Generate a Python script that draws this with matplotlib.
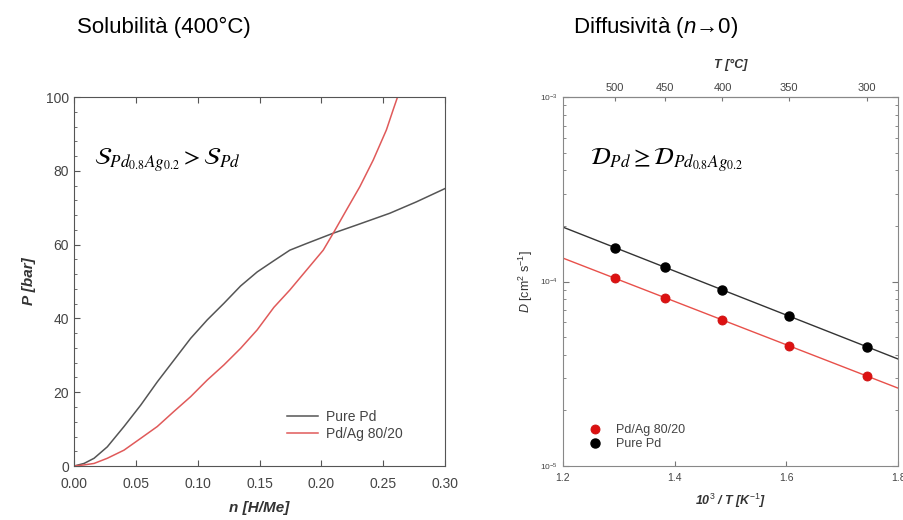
import numpy as np
import matplotlib
matplotlib.use("Agg")
import matplotlib.pyplot as plt
from matplotlib.ticker import MultipleLocator, LogLocator, NullFormatter

plt.rcParams['font.family'] = ['Liberation Sans', 'DejaVu Sans']
plt.rcParams['mathtext.fontset'] = 'custom'
plt.rcParams['mathtext.rm'] = 'Liberation Sans'
plt.rcParams['mathtext.it'] = 'Liberation Sans:italic'
plt.rcParams['mathtext.bf'] = 'Liberation Sans:bold'

# ---- solubility isotherms at 400 C ----
n_pd = [0, 0.0081, 0.0162, 0.0269, 0.0404, 0.0539, 0.0673, 0.0808, 0.0943,
        0.1077, 0.1212, 0.1347, 0.1481, 0.1614, 0.1745, 0.1880, 0.2096,
        0.2284, 0.2553, 0.2769, 0.30]
p_pd = [0, 0.7, 2.1, 5.2, 10.7, 16.5, 22.8, 28.7, 34.6,
        39.6, 44.1, 48.8, 52.6, 55.6, 58.5, 60.3, 63.1,
        65.3, 68.5, 71.6, 75.2]

n_pdag = [0, 0.0081, 0.0162, 0.0269, 0.0404, 0.0539, 0.0673, 0.0808, 0.0943,
          0.1077, 0.1212, 0.1347, 0.1481, 0.1616, 0.1745, 0.1880, 0.2015,
          0.2096, 0.2203, 0.2311, 0.2419, 0.2526, 0.2580, 0.2621, 0.2650]
p_pdag = [0, 0.3, 0.7, 2.1, 4.3, 7.5, 10.7, 14.8, 18.8,
          23.3, 27.4, 31.9, 36.9, 43.0, 47.7, 53.1, 58.5,
          63.1, 69.4, 75.7, 82.9, 91.1, 96.5, 100.5, 104.0]

# ---- diffusivity (n -> 0) ----
T_C = np.array([500, 450, 400, 350, 300])
D_pd = np.array([1.52e-4, 1.20e-4, 9.0e-5, 6.5e-5, 4.42e-5])
D_pdag = np.array([1.045e-4, 8.14e-5, 6.18e-5, 4.47e-5, 3.08e-5])
top_ticks = [500, 450, 400, 350, 300]

inv_T = 1000.0 / (T_C + 273.15)

fig = plt.figure(figsize=(9.04, 5.20), dpi=100)

# ================= left panel =================
ax1 = fig.add_axes([0.0819, 0.1038, 0.4104, 0.7096])
ax1.plot(n_pd, p_pd, color='#555555', lw=1.1, label='Pure Pd')
ax1.plot(n_pdag, p_pdag, color='#e05a5a', lw=1.1, label='Pd/Ag 80/20')
ax1.set_xlim(0, 0.30)
ax1.set_ylim(0, 100)
ax1.xaxis.set_major_locator(MultipleLocator(0.05))
ax1.yaxis.set_major_locator(MultipleLocator(20))
ax1.yaxis.set_minor_locator(MultipleLocator(4))
ax1.xaxis.set_major_formatter(matplotlib.ticker.FormatStrFormatter('%.2f'))
ax1.tick_params(which='both', direction='in', top=True, right=False,
                labelsize=10, labelcolor='#444444', color='#555555')
ax1.tick_params(which='major', length=4)
ax1.tick_params(which='minor', length=2.5)
ax1.tick_params(axis='x', pad=8)
for s in ax1.spines.values():
    s.set_color('#555555')
ax1.set_xlabel('n [H/Me]', fontsize=11, fontweight='bold', style='italic',
               color='#333333', labelpad=7)
ax1.set_ylabel('P [bar]', fontsize=11, fontweight='bold', style='italic',
               color='#333333', labelpad=7)
leg1 = ax1.legend(loc='lower right', bbox_to_anchor=(0.92, 0.033), frameon=False,
                  fontsize=10, handlelength=2.2, labelspacing=0.25,
                  handletextpad=0.6)
for t in leg1.get_texts():
    t.set_color('#444444')
ax1.text(0.055, 0.83, r'$\mathcal{S}_{Pd_{0.8}Ag_{0.2}} > \mathcal{S}_{Pd}$',
         transform=ax1.transAxes, fontsize=17.5, math_fontfamily='stix',
         va='center', ha='left')

# ================= right panel =================
ax2 = fig.add_axes([0.6228, 0.1038, 0.3706, 0.7096])
xfit = np.array([1.2, 1.8])
for D, col in [(D_pd, '#333333'), (D_pdag, '#e8504a')]:
    k, b = np.polyfit(inv_T, np.log10(D), 1)
    ax2.plot(xfit, 10 ** (k * xfit + b), color=col, lw=1.0)
ax2.plot(inv_T, D_pdag, 'o', color='#dd1111', ms=6.5, mec='#cc1111', mew=0.6,
         label='Pd/Ag 80/20', ls='none')
ax2.plot(inv_T, D_pd, 'o', color='black', ms=6.5, label='Pure Pd', ls='none')
ax2.set_yscale('log')
ax2.set_xlim(1.2, 1.8)
ax2.set_ylim(1e-5, 1e-3)
ax2.xaxis.set_major_locator(MultipleLocator(0.2))
ax2.yaxis.set_major_locator(LogLocator(base=10, numticks=5))
ax2.yaxis.set_minor_locator(LogLocator(base=10, subs=np.arange(2, 10), numticks=10))
ax2.yaxis.set_minor_formatter(NullFormatter())
ax2.tick_params(which='both', direction='in', right=True, top=False,
                color='#777777', labelcolor='#444444')
ax2.tick_params(axis='x', labelsize=7.5, pad=5)
ax2.tick_params(axis='y', which='major', labelsize=6, length=4)
ax2.tick_params(axis='y', which='minor', length=2.5)
for s in ax2.spines.values():
    s.set_color('#888888')

sec = ax2.secondary_xaxis('top', functions=(lambda x: 1000.0 / x - 273.15,
                                            lambda t: 1000.0 / (t + 273.15)))
sec.set_xticks(top_ticks)
sec.tick_params(direction='in', labelsize=8, length=3, color='#777777',
                labelcolor='#444444', pad=3)
sec.spines['top'].set_color('#888888')
sec.set_xlabel('T [°C]', fontsize=9, fontweight='bold', style='italic',
               color='#333333', labelpad=11)

ax2.set_xlabel(r'10$^{3}$ / T [K$^{-1}$]', fontsize=9, fontweight='bold',
               style='italic', color='#333333', labelpad=6)
ax2.set_ylabel(r'$\mathbf{\mathit{D}}$ [cm$^{2}$ s$^{-1}$]', fontsize=9,
               color='#333333', labelpad=4)
leg2 = ax2.legend(loc='lower left', bbox_to_anchor=(0.04, 0.012), frameon=False,
                  fontsize=9, handletextpad=1.1, labelspacing=0.15,
                  handlelength=1.2)
for t in leg2.get_texts():
    t.set_color('#444444')
ax2.text(0.08, 0.83, r'$\mathcal{D}_{Pd} \geq \mathcal{D}_{Pd_{0.8}Ag_{0.2}}$',
         transform=ax2.transAxes, fontsize=17.5, math_fontfamily='stix',
         va='center', ha='left')

# titles
fig.text(0.085, 0.947, 'Solubilità (400°C)', fontsize=16, va='center', ha='left')
fig.text(0.634, 0.947, r'Diffusività ($\mathit{n}$→$\mathit{0}$)', fontsize=16,
         va='center', ha='left')

fig.savefig('out.png', dpi=100, facecolor='white')
